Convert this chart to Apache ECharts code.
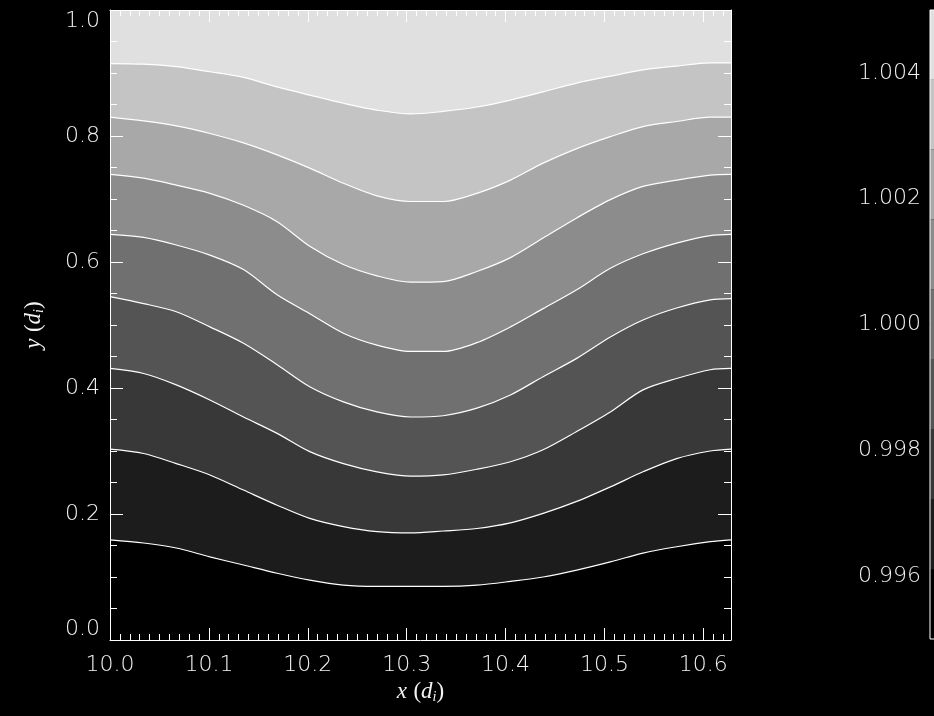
<!DOCTYPE html>
<html>
<head>
<meta charset="utf-8">
<script src="https://cdn.jsdelivr.net/npm/echarts@6/dist/echarts.min.js"></script>
<style>
html, body { margin: 0; padding: 0; background: #000; }
#chart { width: 934px; height: 716px; }
</style>
</head>
<body>
<div id="chart"></div>
<script>
// x sample positions (d_i) where the contour lines were read
const xValues = [10.000, 10.034, 10.067, 10.101, 10.135, 10.169, 10.202, 10.236, 10.270, 10.304,
                 10.337, 10.371, 10.405, 10.438, 10.472, 10.506, 10.539, 10.573, 10.607, 10.628];
// y (d_i) of each contour line, top to bottom
const contour1 = [0.915, 0.914, 0.910, 0.902, 0.893, 0.878, 0.865, 0.852, 0.841, 0.835, 0.839, 0.846, 0.857, 0.870, 0.884, 0.895, 0.905, 0.911, 0.916, 0.916];
const contour2 = [0.830, 0.824, 0.816, 0.804, 0.789, 0.770, 0.749, 0.725, 0.705, 0.696, 0.696, 0.709, 0.730, 0.757, 0.780, 0.799, 0.815, 0.823, 0.830, 0.830];
const contour3 = [0.739, 0.733, 0.722, 0.709, 0.690, 0.664, 0.625, 0.596, 0.578, 0.568, 0.569, 0.585, 0.607, 0.638, 0.670, 0.699, 0.720, 0.730, 0.738, 0.739];
const contour4 = [0.644, 0.639, 0.627, 0.611, 0.588, 0.548, 0.518, 0.487, 0.468, 0.458, 0.458, 0.472, 0.497, 0.526, 0.556, 0.590, 0.613, 0.630, 0.642, 0.644];
const contour5 = [0.545, 0.534, 0.521, 0.497, 0.471, 0.437, 0.402, 0.378, 0.362, 0.354, 0.356, 0.368, 0.389, 0.418, 0.447, 0.481, 0.508, 0.527, 0.540, 0.542];
const contour6 = [0.431, 0.423, 0.405, 0.381, 0.354, 0.328, 0.299, 0.280, 0.267, 0.260, 0.262, 0.271, 0.283, 0.302, 0.331, 0.362, 0.397, 0.415, 0.429, 0.431];
const contour7 = [0.303, 0.296, 0.280, 0.262, 0.238, 0.214, 0.193, 0.180, 0.172, 0.170, 0.173, 0.177, 0.186, 0.201, 0.220, 0.243, 0.267, 0.288, 0.300, 0.303];
const contour8 = [0.159, 0.154, 0.146, 0.132, 0.119, 0.106, 0.095, 0.087, 0.085, 0.085, 0.085, 0.087, 0.093, 0.100, 0.111, 0.124, 0.138, 0.148, 0.156, 0.159];
const contours = [contour1, contour2, contour3, contour4, contour5, contour6, contour7, contour8];
// band greys, from the top band to the bottom band
const bandColors = ['#e0e0e0', '#c4c4c4', '#a8a8a8', '#8c8c8c', '#707070', '#545454', '#383838', '#1c1c1c', '#000000'];
// colour bar level edges (bottom to top)
const colorbarEdges = [0.995, 0.99611, 0.99722, 0.99833, 0.99944, 1.00056, 1.00167, 1.00278, 1.00389, 1.005];

const chart = echarts.init(document.getElementById('chart'), null, { renderer: 'canvas' });

const textColor = '#f2f2f2';
const labelFont = { color: textColor, fontFamily: 'DejaVu Sans', fontSize: 22, fontWeight: 200 };
const white = { color: '#ffffff', width: 1 };

const contourSeries = contours.map((c, k) => ({
  type: 'line',
  xAxisIndex: 0,
  yAxisIndex: 0,
  data: xValues.map((x, i) => [x, c[i]]),
  smooth: 0.3,
  symbol: 'none',
  lineStyle: { color: '#ffffff', width: 1.2 },
  areaStyle: { color: bandColors[k + 1], opacity: 1, origin: 'start' },
  clip: true,
  silent: true
}));

const colorbarSeries = [];
for (let k = 0; k < colorbarEdges.length - 1; k++) {
  colorbarSeries.push({
    type: 'bar',
    xAxisIndex: 2,
    yAxisIndex: 2,
    stack: 'cb',
    barWidth: '100%',
    data: [k === 0 ? colorbarEdges[1] : colorbarEdges[k + 1] - colorbarEdges[k]],
    itemStyle: { color: bandColors[bandColors.length - 1 - k] },
    clip: true,
    silent: true
  });
}

const axisNameRich = {
  i: { fontFamily: 'Liberation Serif', fontStyle: 'italic', fontSize: 23, color: textColor },
  p: { fontFamily: 'Liberation Serif', fontSize: 23, color: textColor },
  s: { fontFamily: 'Liberation Serif', fontStyle: 'italic', fontSize: 14, color: textColor, padding: [10, 0, 0, 0] }
};

const option = {
  backgroundColor: '#000000',
  animation: false,
  grid: [
    { left: 110, top: 10, width: 621, height: 630, show: true, backgroundColor: bandColors[0], borderWidth: 0 },
    { left: 930, top: 10, width: 40, height: 629, show: true, backgroundColor: 'transparent', borderColor: '#ffffff', borderWidth: 1, z: 5 }
  ],
  xAxis: [
    {
      gridIndex: 0, type: 'value', position: 'bottom', min: 10, max: 10.628, interval: 0.1, z: 10,
      axisLine: { show: true, onZero: false, lineStyle: white },
      axisTick: { show: true, inside: true, length: 12, lineStyle: white },
      minorTick: { show: true, splitNumber: 10, length: 6, lineStyle: white },
      splitLine: { show: false },
      axisLabel: Object.assign({ margin: 14, showMaxLabel: false, formatter: v => v.toFixed(1) }, labelFont),
      name: '{i|x} {p|(}{i|d}{s|i}{p|)}',
      nameLocation: 'middle',
      nameGap: 40,
      nameTextStyle: { color: textColor, fontSize: 23, rich: axisNameRich }
    },
    {
      gridIndex: 0, type: 'value', position: 'top', min: 10, max: 10.628, interval: 0.1, z: 10,
      axisLine: { show: true, onZero: false, lineStyle: white },
      axisTick: { show: true, inside: true, length: 12, lineStyle: white },
      minorTick: { show: true, splitNumber: 10, length: 6, lineStyle: white },
      splitLine: { show: false },
      axisLabel: { show: false }
    },
    {
      gridIndex: 1, type: 'category', data: ['cb'], show: false,
      axisTick: { show: false }, axisLine: { show: false }
    }
  ],
  yAxis: [
    {
      gridIndex: 0, type: 'value', position: 'left', min: 0, max: 1, interval: 0.2, z: 10,
      axisLine: { show: true, onZero: false, lineStyle: white },
      axisTick: { show: true, inside: true, length: 13, lineStyle: white },
      minorTick: { show: true, splitNumber: 4, length: 7, lineStyle: white },
      splitLine: { show: false },
      axisLabel: Object.assign({ margin: 10, formatter: v => v.toFixed(1), verticalAlignMaxLabel: 'top', verticalAlignMinLabel: 'bottom' }, labelFont),
      name: '{i|y} {p|(}{i|d}{s|i}{p|)}',
      nameLocation: 'middle',
      nameGap: 64,
      nameTextStyle: { color: textColor, fontSize: 23, rich: axisNameRich }
    },
    {
      gridIndex: 0, type: 'value', position: 'right', min: 0, max: 1, interval: 0.2, z: 10,
      axisLine: { show: true, onZero: false, lineStyle: white },
      axisTick: { show: true, inside: true, length: 13, lineStyle: white },
      minorTick: { show: true, splitNumber: 4, length: 7, lineStyle: white },
      splitLine: { show: false },
      axisLabel: { show: false }
    },
    {
      gridIndex: 1, type: 'value', position: 'left', min: 0.995, max: 1.005, interval: 0.001,
      axisLine: { show: false },
      axisTick: { show: false },
      splitLine: { show: false },
      axisLabel: Object.assign({
        margin: 9,
        formatter: v => (Math.round(v * 1000) % 2 === 0 ? v.toFixed(3) : '')
      }, labelFont)
    }
  ],
  series: contourSeries.concat(colorbarSeries)
};

chart.setOption(option);
</script>
</body>
</html>
